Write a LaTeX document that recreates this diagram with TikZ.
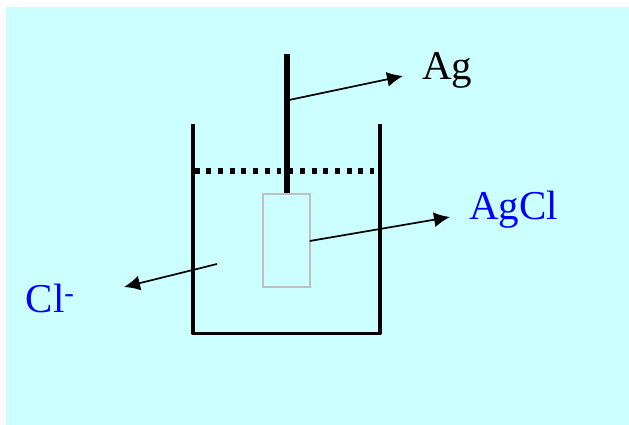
\documentclass[tikz,border=0pt]{standalone}
\usepackage{xcolor}
\usepackage{fontspec}
\setmainfont{Liberation Serif}
\usepackage{tikz}
\usetikzlibrary{
  arrows.meta,
  positioning
}
\definecolor{cellbg}{RGB}{204, 255, 255}
\definecolor{cellblue}{RGB}{0, 0, 255}
\definecolor{coatgray}{RGB}{191, 191, 191}

\begin{document}
\begin{tikzpicture}[
  x=1pt, y=-1pt,
  wall/.style={draw=black, line width=3.9pt, line join=round},
  rod/.style={draw=black, line width=5.8pt},
  level/.style={draw=black, line width=5.4pt, dash pattern=on 4.9pt off 6.8pt},
  coat/.style={draw=coatgray, line width=1.9pt, minimum width=46.5pt, minimum height=93pt, inner sep=0pt, outer sep=0pt},
  lead/.style={draw=black, line width=1.7pt, -{Latex[length=16pt, width=15pt]}},
  lbl/.style={font=\fontsize{41}{41}\selectfont, anchor=base west, inner sep=0pt, text=black},
  bluelbl/.style={lbl, text=cellblue}
]
\useasboundingbox (0,0) rectangle (629,425);

% background
\fill[cellbg] (6,7) rectangle (629,425);

% beaker and liquid level
\draw[wall] (193.2,124) -- (193.2,333.5) -- (380,333.5) -- (380,124);
\draw[level] (194.6,171) -- (374,171);

% electrode
\node[coat] (agcl) at (286.5,240.5) {};
\coordinate (rodtop) at (286.8,54);
\coordinate (rodfoot) at (286.8,193);
\draw[rod] (rodtop) -- (rodfoot);

% labels
\node[lbl] (ag) at (422,80) {Ag};
\node[bluelbl] (agcllbl) at (469,219) {AgCl};
\node[bluelbl] (cl) at (25.5,312) {Cl\textsuperscript{-}};

% arrows
\coordinate (rodside) at (289,100);
\coordinate (agtip) at (403,76);
\draw[lead] (rodside) -- (agtip);
\coordinate (agcltip) at (450,217);
\draw[lead] (agcl.east |- 0,241) -- (agcltip);
\coordinate (bath) at (217,264);
\coordinate (cltip) at (124,287);
\draw[lead] (bath) -- (cltip);

\end{tikzpicture}
\end{document}
